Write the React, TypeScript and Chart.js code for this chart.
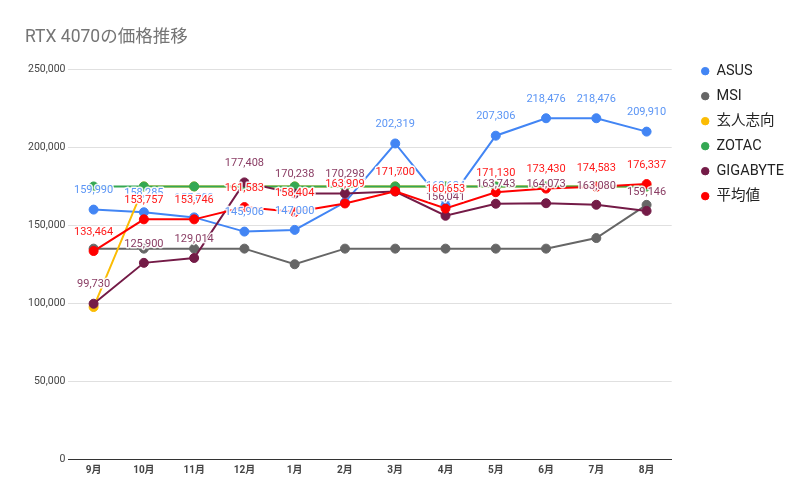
import React, { useEffect, useRef } from "react";
import { Chart, registerables } from "chart.js";

Chart.register(...registerables);

const months = ["9月", "10月", "11月", "12月", "1月", "2月", "3月", "4月", "5月", "6月", "7月", "8月"];

const asus = [159990, 158285, 155000, 145906, 147000, 164647, 202319, 162624, 207306, 218476, 218476, 209910];
const msi = [135000, 135000, 135000, 135000, 125000, 135000, 135000, 135000, 135000, 135000, 141759, 163029];
const kuroutoshikou = [97600, 174800, 174800, 174800, 174800, 174800, 174800, 174800, 174800, 174800, 174800, 174800];
const zotac = [174800, 174800, 174800, 174800, 174800, 174800, 174800, 174800, 174800, 174800, 174800, 174800];
const gigabyte = [99730, 125900, 129014, 177408, 170238, 170298, 171581, 156041, 163743, 164073, 163080, 159146];
const average = [133464, 153757, 153746, 161583, 158404, 163909, 171700, 160653, 171130, 173430, 174583, 176337];

const yTicks = [0, 50000, 100000, 150000, 200000, 250000];

const FONT = "Roboto, 'Noto Sans CJK JP', sans-serif";

// draws the value above each point for series flagged with showLabels
const valueLabels = {
  id: "valueLabels",
  afterDatasetsDraw(chart: any) {
    const ctx = chart.ctx;
    ctx.save();
    ctx.font = `11px ${FONT}`;
    ctx.textAlign = "center";
    ctx.textBaseline = "middle";
    ctx.lineJoin = "round";
    chart.data.datasets.forEach((ds: any, i: number) => {
      if (!ds.showLabels) return;
      const meta = chart.getDatasetMeta(i);
      meta.data.forEach((pt: any, j: number) => {
        const text = ds.data[j].toLocaleString("en-US");
        const y = pt.y - 19;
        ctx.strokeStyle = "rgba(255,255,255,0.9)";
        ctx.lineWidth = 3;
        ctx.strokeText(text, pt.x, y);
        ctx.fillStyle = ds.labelColor;
        ctx.fillText(text, pt.x, y);
      });
    });
    ctx.restore();
  },
};

function series(label: string, data: number[], color: string, idx: number, labelColor?: string) {
  return {
    label,
    data,
    order: 10 - idx, // later series drawn on top
    borderColor: color,
    backgroundColor: color,
    pointBackgroundColor: color,
    pointBorderColor: color,
    borderWidth: 2,
    pointBorderWidth: 1,
    pointRadius: 4.5,
    pointHoverRadius: 4.5,
    tension: 0,
    showLabels: !!labelColor,
    labelColor,
  };
}

const App: React.FC = () => {
  const chartRef = useRef<HTMLCanvasElement | null>(null);
  const chartInstance = useRef<Chart | null>(null);

  useEffect(() => {
    if (!chartRef.current) return;
    if (chartInstance.current) chartInstance.current.destroy();

    chartInstance.current = new Chart(chartRef.current, {
      type: "line",
      data: {
        labels: months,
        datasets: [
          series("ASUS", asus, "#4285f4", 0, "#5b95f5"),
          series("MSI", msi, "#666666", 1),
          series("玄人志向", kuroutoshikou, "#fbbc04", 2),
          series("ZOTAC", zotac, "#34a853", 3),
          series("GIGABYTE", gigabyte, "#741b47", 4, "#8a3d64"),
          series("平均値", average, "#ff0000", 5, "#ff1a1a"),
        ] as any,
      },
      plugins: [valueLabels],
      options: {
        animation: false,
        responsive: true,
        maintainAspectRatio: false,
        layout: { padding: { top: 10, right: 10, bottom: 12.5, left: 17 } },
        plugins: {
          title: {
            display: true,
            text: "RTX 4070の価格推移",
            align: "start",
            color: "#757575",
            font: { family: FONT, size: 17.5, weight: "normal" },
            padding: { top: 9, bottom: 21 },
          },
          legend: {
            position: "right",
            align: "start",
            title: { display: true, text: " ", padding: { top: 21, bottom: 0 }, font: { size: 12 } },
            labels: {
              usePointStyle: true,
              pointStyle: "circle",
              boxWidth: 8,
              boxHeight: 5.3,
              padding: 10.5,
              color: "#222",
              font: { family: FONT, size: 14.5 },
              sort: (a: any, b: any) => a.datasetIndex - b.datasetIndex,
            },
          },
          tooltip: { enabled: false },
        },
        scales: {
          x: {
            offset: true,
            grid: { display: false, drawTicks: false },
            border: { color: "#333", width: 1 },
            ticks: { color: "#444", font: { family: FONT, size: 10, weight: "bold" }, padding: 5 },
          },
          y: {
            min: 0,
            max: 250000,
            afterBuildTicks: (axis: any) => {
              axis.ticks = yTicks.map((v) => ({ value: v }));
            },
            grid: { color: "#e0e0e0", drawTicks: false },
            border: { display: false },
            ticks: {
              color: "#444",
              padding: 3,
              font: { family: FONT, size: 10.5 },
              callback: (v: any) => Number(v).toLocaleString("en-US"),
            },
          },
          // empty right axis, only keeps a gap between plot and legend
          gap: {
            type: "linear",
            position: "right",
            display: true,
            grid: { display: false, drawTicks: false },
            border: { display: false },
            ticks: { display: false },
            afterFit: (axis: any) => {
              axis.width = 19;
            },
          },
        } as any,
      },
    });

    return () => {
      if (chartInstance.current) chartInstance.current.destroy();
    };
  }, []);

  return (
    <div style={{ position: "relative", width: 796, height: 486 }}>
      <canvas ref={chartRef} />
    </div>
  );
};

export default App;
